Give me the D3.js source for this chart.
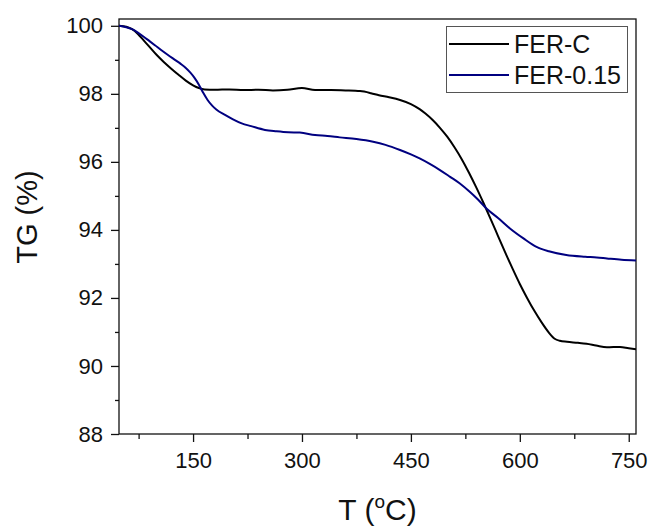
<!DOCTYPE html>
<html>
<head>
<meta charset="utf-8">
<script src="https://cdn.jsdelivr.net/npm/d3@7/dist/d3.min.js"></script>
<style>
  html, body { margin: 0; padding: 0; background: #fff; }
  svg { display: block; }
  text { font-family: "Liberation Sans", Arial, Helvetica, sans-serif; fill: #111; }
</style>
</head>
<body>
<svg id="chart" width="654" height="527"></svg>
<script>
// Thermogravimetric curves: temperature (°C) vs. remaining mass (%)
const seriesNames = ["FER-C", "FER-0.15"];
const seriesColors = ["#000000", "#000080"];

const ferCTemp = [48, 58, 66, 74, 82, 90, 100, 110, 120, 130, 140, 150, 158, 166, 180, 200, 220, 240, 260, 280,
  300, 318, 340, 360, 380, 395, 406, 420, 435, 450, 462, 470, 480, 490, 500, 510, 520, 530, 540, 550,
  560, 570, 580, 590, 600, 610, 620, 630, 640, 648, 655, 665, 680, 692, 705, 720, 738, 750, 760];
const ferCMass = [100.0, 99.97, 99.9, 99.76, 99.57, 99.38, 99.14, 98.93, 98.74, 98.56, 98.39, 98.25, 98.17, 98.13, 98.12, 98.13, 98.11, 98.12, 98.1, 98.12,
  98.17, 98.11, 98.11, 98.1, 98.08, 98.02, 97.96, 97.9, 97.82, 97.7, 97.55, 97.42, 97.23, 97.0, 96.74, 96.43, 96.08, 95.68, 95.25, 94.79,
  94.31, 93.82, 93.33, 92.86, 92.41, 92.0, 91.62, 91.28, 90.98, 90.8, 90.74, 90.71, 90.68, 90.65, 90.6, 90.55, 90.56, 90.52, 90.49];

const fer015Temp = [48, 58, 66, 74, 82, 90, 98, 106, 115, 125, 133, 140, 146, 152, 158, 164, 170, 176, 182, 194,
  205, 217, 230, 249, 265, 281, 297, 318, 335, 352, 375, 398, 415, 435, 450, 462, 476, 490, 504, 517,
  531, 542, 554, 570, 586, 605, 623, 640, 664, 690, 706, 720, 740, 760];
const fer015Mass = [100.0, 99.96, 99.9, 99.8, 99.68, 99.55, 99.42, 99.29, 99.15, 99.0, 98.88, 98.76, 98.63, 98.47, 98.27, 98.03, 97.82, 97.66, 97.54, 97.38,
  97.25, 97.13, 97.05, 96.94, 96.9, 96.87, 96.86, 96.79, 96.76, 96.72, 96.67, 96.59, 96.5, 96.35, 96.22, 96.1, 95.94, 95.76, 95.56, 95.37,
  95.12, 94.9, 94.63, 94.35, 94.05, 93.75, 93.5, 93.37, 93.26, 93.21, 93.19, 93.16, 93.12, 93.1];

const xMajorTicks = [150, 300, 450, 600, 750];
const xMinorTicks = [75, 225, 375, 525, 675];
const yMajorTicks = [88, 90, 92, 94, 96, 98, 100];
const yMinorTicks = [89, 91, 93, 95, 97, 99];

const xLabel = "T (";
const yLabel = "TG (%)";

const svg = d3.select("#chart");
const plotLeft = 119, plotRight = 636, plotTop = 19, plotBottom = 434;

const x = d3.scaleLinear().domain([48, 760]).range([plotLeft, plotRight]);
const y = d3.scaleLinear().domain([88, 100.2]).range([plotBottom, plotTop]);

// axes: major ticks with labels, minor ticks without
const gx = svg.append("g").attr("transform", `translate(0,${plotBottom})`)
  .call(d3.axisBottom(x).tickValues(xMajorTicks).tickSize(8).tickPadding(10).tickFormat(d3.format("d")));
const gxm = svg.append("g").attr("transform", `translate(0,${plotBottom})`)
  .call(d3.axisBottom(x).tickValues(xMinorTicks).tickSize(5).tickFormat(""));
const gy = svg.append("g").attr("transform", `translate(${plotLeft},0)`)
  .call(d3.axisLeft(y).tickValues(yMajorTicks).tickSize(8).tickPadding(8).tickFormat(d3.format("d")));
const gym = svg.append("g").attr("transform", `translate(${plotLeft},0)`)
  .call(d3.axisLeft(y).tickValues(yMinorTicks).tickSize(4).tickFormat(""));

[gx, gxm, gy, gym].forEach(g => {
  g.select(".domain").remove();
  g.selectAll(".tick line").attr("stroke", "#111").attr("stroke-width", 1.3);
  g.selectAll(".tick text").attr("font-size", 22).attr("fill", "#111")
    .style("font-family", '"Liberation Sans", Arial, sans-serif');
});

// plot frame
svg.append("rect")
  .attr("x", plotLeft).attr("y", plotTop)
  .attr("width", plotRight - plotLeft).attr("height", plotBottom - plotTop)
  .attr("fill", "none").attr("stroke", "#111").attr("stroke-width", 1.3);

// curves
const line = d3.line().x(d => x(d[0])).y(d => y(d[1])).curve(d3.curveMonotoneX);
const series = [
  d3.zip(ferCTemp, ferCMass),
  d3.zip(fer015Temp, fer015Mass)
];
svg.append("defs").append("clipPath").attr("id", "plotClip")
  .append("rect").attr("x", plotLeft).attr("y", plotTop)
  .attr("width", plotRight - plotLeft).attr("height", plotBottom - plotTop);
series.forEach((pts, i) => {
  svg.append("path")
    .datum(pts)
    .attr("d", line)
    .attr("fill", "none")
    .attr("stroke", seriesColors[i])
    .attr("stroke-width", 2)
    .attr("stroke-linejoin", "round")
    .attr("clip-path", "url(#plotClip)");
});

// legend
const lg = svg.append("g");
lg.append("rect")
  .attr("x", 446.5).attr("y", 26.5).attr("width", 181).attr("height", 66)
  .attr("fill", "#fff").attr("stroke", "#555").attr("stroke-width", 1);
const legendRows = [44, 75];
seriesNames.forEach((name, i) => {
  lg.append("line")
    .attr("x1", 449).attr("x2", 509)
    .attr("y1", legendRows[i]).attr("y2", legendRows[i])
    .attr("stroke", seriesColors[i]).attr("stroke-width", 2);
  lg.append("text")
    .attr("x", 514).attr("y", legendRows[i] + 9)
    .attr("font-size", 25)
    .text(name);
});

// axis titles
const xt = svg.append("text")
  .attr("x", (plotLeft + plotRight) / 2).attr("y", 520)
  .attr("text-anchor", "middle").attr("font-size", 30);
xt.append("tspan").text(xLabel);
xt.append("tspan").attr("font-size", 19).attr("dy", -12).text("o");
xt.append("tspan").attr("dy", 12).text("C)");

svg.append("text")
  .attr("transform", "translate(37,217) rotate(-90)")
  .attr("text-anchor", "middle").attr("font-size", 29)
  .text(yLabel);
</script>
</body>
</html>
